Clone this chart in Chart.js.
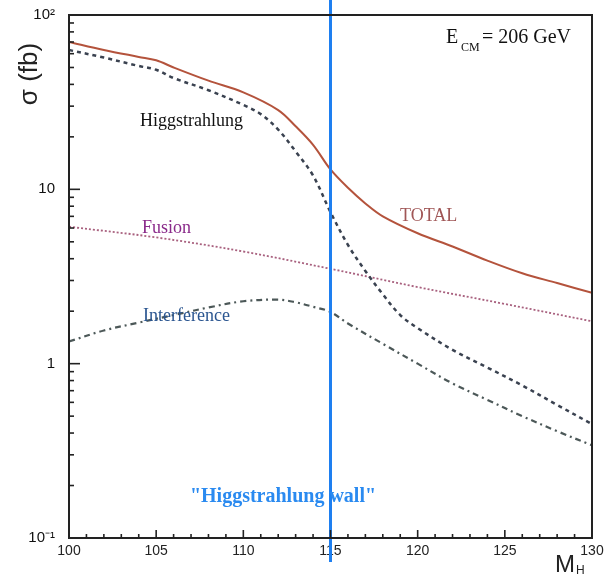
<!DOCTYPE html>
<html>
<head>
<meta charset="utf-8">
<script src="https://cdn.jsdelivr.net/npm/chart.js@4.4.0/dist/chart.umd.min.js"></script>
<style>
  html, body { margin: 0; padding: 0; background: #fff; }
  #wrap { width: 605px; height: 575px; }
</style>
</head>
<body>
<div id="wrap"><canvas id="myChart" width="605" height="575"></canvas></div>
<script>
// data (M_H in GeV, sigma in fb)
const massTotal = [100, 102, 104, 105, 106, 108, 110, 112, 113, 114, 115, 116, 117, 118, 120, 122, 124, 126, 128, 130];
const sigmaTotal = [70, 63, 57.5, 55, 50, 42, 36, 28.5, 23, 18, 13, 10.2, 8.3, 7.0, 5.6, 4.7, 3.9, 3.3, 2.9, 2.55];

const massHiggs = [100, 102, 104, 105, 106, 108, 110, 111, 112, 113, 114, 115, 116, 117, 118, 119, 120, 122, 124, 126, 128, 130];
const sigmaHiggs = [63, 57, 51, 48.5, 43.5, 37, 30.5, 27, 22, 16.5, 12, 7.4, 4.8, 3.4, 2.5, 1.9, 1.6, 1.2, 0.95, 0.75, 0.58, 0.45];

const massFusion = [100, 105, 110, 115, 120, 125, 130];
const sigmaFusion = [6.1, 5.3, 4.4, 3.5, 2.75, 2.2, 1.75];

const massInterf = [100, 102, 104, 106, 108, 110, 112, 113, 114, 115, 116, 118, 120, 122, 124, 126, 128, 130];
const sigmaInterf = [1.34, 1.55, 1.72, 1.9, 2.1, 2.28, 2.33, 2.25, 2.12, 1.98, 1.7, 1.3, 1.0, 0.77, 0.62, 0.5, 0.41, 0.34];

const wallMass = 115;
const xTicks = [100, 105, 110, 115, 120, 125, 130];
const yTicks = [0.1, 1, 10, 100];
const yTickLabels = ['10\u207B\u00B9', '1', '10', '10\u00B2'];

function pts(xs, ys) {
    return xs.map((x, i) => ({ x: x, y: ys[i] }));
}

const serif = '"Liberation Serif", "DejaVu Serif", serif';
const sans = '"Liberation Sans", Arial, sans-serif';

// frame, inward ticks and all the text labels
const decor = {
    id: 'decor',
    afterDatasetsDraw(chart) {
        const c = chart.ctx;
        const xs = chart.scales.x, ys = chart.scales.y;
        const a = chart.chartArea;
        c.save();

        // wall line
        const wx = xs.getPixelForValue(wallMass);
        c.strokeStyle = '#1e7ff0';
        c.lineWidth = 3;
        c.beginPath();
        c.moveTo(wx, 0);
        c.lineTo(wx, a.bottom + 24);
        c.stroke();

        // frame
        c.strokeStyle = '#222';
        c.lineWidth = 2;
        c.strokeRect(a.left, a.top, a.right - a.left, a.bottom - a.top);

        // y ticks (inward)
        c.lineWidth = 1.6;
        for (let e = -1; e < 2; e++) {
            for (let m = 1; m < 10; m++) {
                const v = m * Math.pow(10, e);
                const py = ys.getPixelForValue(v);
                const len = m === 1 ? 11 : 5;
                c.beginPath();
                c.moveTo(a.left, py);
                c.lineTo(a.left + len, py);
                c.stroke();
            }
        }
        // x ticks (inward)
        for (let m = 100; m <= 130; m++) {
            const px = xs.getPixelForValue(m);
            const len = m % 5 === 0 ? 8 : 4;
            c.beginPath();
            c.moveTo(px, a.bottom);
            c.lineTo(px, a.bottom - len);
            c.stroke();
        }

        // axis titles
        c.fillStyle = '#222';
        c.font = '26px ' + sans;
        c.textAlign = 'center';
        c.textBaseline = 'middle';
        c.save();
        c.translate(30, 74);
        c.rotate(-Math.PI / 2);
        c.fillText('\u03C3 (fb)', 0, 0);
        c.restore();

        c.textAlign = 'left';
        c.textBaseline = 'alphabetic';
        c.font = '24px ' + sans;
        c.fillText('M', 555, 572);
        c.font = '12px ' + sans;
        c.fillText('H', 576, 574);

        // E_CM
        c.fillStyle = '#111';
        c.font = '20px ' + serif;
        c.fillText('E', 446, 43);
        c.font = '12px ' + serif;
        c.fillText('CM', 461, 51);
        c.font = '20px ' + serif;
        c.fillText('= 206 GeV', 482, 43);

        // curve labels
        c.font = '18px ' + serif;
        c.textBaseline = 'middle';
        c.fillStyle = '#111';
        c.fillText('Higgstrahlung', 140, 121);
        c.fillStyle = '#8a2a8a';
        c.fillText('Fusion', 142, 228);
        c.fillStyle = '#2a5590';
        c.fillText('Interference', 143, 316);
        c.fillStyle = '#a05656';
        c.fillText('TOTAL', 400, 216);

        c.fillStyle = '#2a8af0';
        c.font = 'bold 20px ' + serif;
        c.textAlign = 'center';
        c.fillText('"Higgstrahlung wall"', 283, 497);

        c.restore();
    }
};

const ctx = document.getElementById('myChart').getContext('2d');
const myChart = new Chart(ctx, {
    type: 'line',
    data: {
        datasets: [
            {
                label: 'TOTAL',
                data: pts(massTotal, sigmaTotal),
                borderColor: '#b4533c',
                borderWidth: 2,
                pointRadius: 0,
                tension: 0.35
            },
            {
                label: 'Higgstrahlung',
                data: pts(massHiggs, sigmaHiggs),
                borderColor: '#3a4250',
                borderWidth: 2.5,
                borderDash: [4, 4],
                pointRadius: 0,
                tension: 0.35
            },
            {
                label: 'Fusion',
                data: pts(massFusion, sigmaFusion),
                borderColor: '#a8607e',
                borderWidth: 1.8,
                borderDash: [2, 2],
                pointRadius: 0,
                tension: 0.35
            },
            {
                label: 'Interference',
                data: pts(massInterf, sigmaInterf),
                borderColor: '#4c5858',
                borderWidth: 2.2,
                borderDash: [6, 4, 2, 4],
                pointRadius: 0,
                tension: 0.35
            }
        ]
    },
    options: {
        responsive: false,
        animation: false,
        layout: { padding: { left: 0, right: 13, top: 15, bottom: 0 } },
        plugins: {
            legend: { display: false },
            tooltip: { enabled: false }
        },
        scales: {
            x: {
                type: 'linear',
                min: 100,
                max: 130,
                grid: { display: true, drawOnChartArea: false, drawTicks: true, tickLength: 5, tickColor: 'rgba(0,0,0,0)' },
                border: { display: false },
                afterBuildTicks: (s) => { s.ticks = xTicks.map(v => ({ value: v })); },
                afterFit: (s) => { s.height = 37; },
                ticks: {
                    color: '#222',
                    font: { family: sans, size: 14 },
                    padding: 0,
                    maxRotation: 0,
                    autoSkip: false
                }
            },
            y: {
                type: 'logarithmic',
                min: 0.1,
                max: 100,
                grid: { display: true, drawOnChartArea: false, drawTicks: true, tickLength: 14, tickColor: 'rgba(0,0,0,0)' },
                border: { display: false },
                afterBuildTicks: (s) => { s.ticks = yTicks.map(v => ({ value: v })); },
                afterFit: (s) => { s.width = 69; },
                ticks: {
                    color: '#111',
                    font: { family: sans, size: 15 },
                    padding: 0,
                    autoSkip: false,
                    callback: (v) => yTickLabels[yTicks.indexOf(v)]
                }
            }
        }
    },
    plugins: [decor]
});
</script>
</body>
</html>
